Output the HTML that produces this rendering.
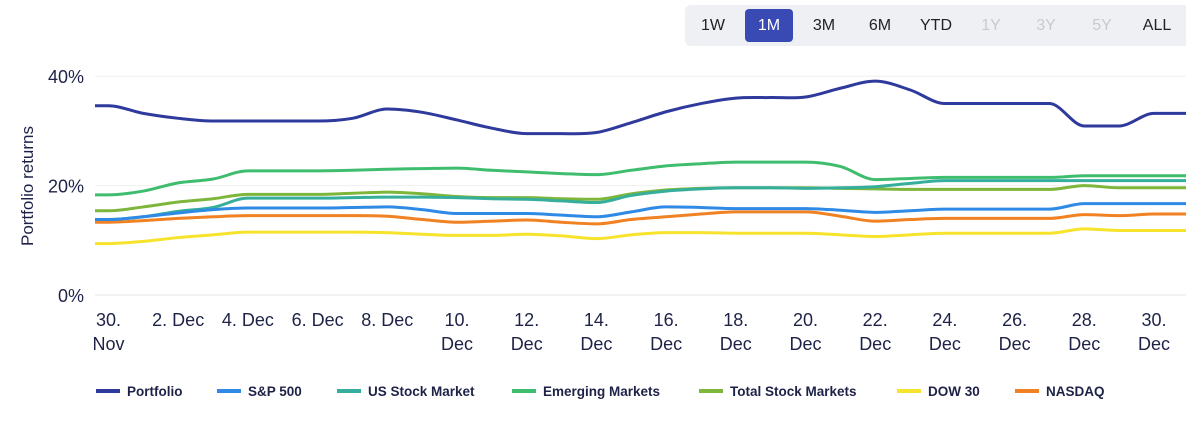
<!DOCTYPE html>
<html><head><meta charset="utf-8">
<style>
body{margin:0;width:1186px;height:424px;background:#fff;font-family:"Liberation Sans",sans-serif;overflow:hidden;position:relative}
.bar{position:absolute;left:685px;top:5px;width:510px;height:41px;background:#eef0f4;border-radius:6px}
.btn{position:absolute;top:9px;height:33px;line-height:33px;font-size:16px;color:#222;text-align:center}
.btn.on{background:#3a4ab4;color:#fff;border-radius:4px}
.btn.dis{color:#c8cad0}
</style></head><body>
<div class="bar"></div>
<div class="btn" style="left:690px;width:46px">1W</div>
<div class="btn on" style="left:745px;width:48px">1M</div>
<div class="btn" style="left:800px;width:48px">3M</div>
<div class="btn" style="left:856px;width:48px">6M</div>
<div class="btn" style="left:910px;width:52px">YTD</div>
<div class="btn dis" style="left:970px;width:42px">1Y</div>
<div class="btn dis" style="left:1025px;width:42px">3Y</div>
<div class="btn dis" style="left:1081px;width:42px">5Y</div>
<div class="btn" style="left:1134px;width:46px">ALL</div>
<svg id="chart" width="1186" height="424" style="position:absolute;left:0;top:0"></svg>
<script>
const days=[0,1,2,3,4,5,6,7,8,9,10,11,12,13,14,15,16,17,18,19,20,21,22,23,24,25,26,27,28,29,30,31];
const tickDays=[0,2,4,6,8,10,12,14,16,18,20,22,24,26,28,30];
const tickLabels=[["30.","Nov"],["2. Dec"],["4. Dec"],["6. Dec"],["8. Dec"],["10.","Dec"],["12.","Dec"],["14.","Dec"],["16.","Dec"],["18.","Dec"],["20.","Dec"],["22.","Dec"],["24.","Dec"],["26.","Dec"],["28.","Dec"],["30.","Dec"]];
const yTicks=[0,20,40];
const names=["Portfolio","S&P 500","US Stock Market","Emerging Markets","Total Stock Markets","DOW 30","NASDAQ"];
const colors=["#2e3a9c","#2f8ae6","#35ae9c","#3fbd6f","#7db63a","#f7e22c","#f08223"];
const portfolio=[34.6,33.2,32.3,31.8,31.8,31.8,31.8,32.3,34.0,33.4,32.0,30.5,29.5,29.5,29.7,31.5,33.5,35.0,36.0,36.1,36.2,37.8,39.1,37.5,35.0,35.0,35.0,35.0,30.9,30.9,33.2,33.2];
const sp500=[13.8,14.3,15.0,15.6,15.9,15.9,15.9,16.0,16.1,15.6,14.9,14.9,14.9,14.6,14.3,15.2,16.1,16.0,15.8,15.8,15.8,15.5,15.1,15.4,15.7,15.7,15.7,15.7,16.7,16.7,16.7,16.7];
const usMarket=[13.8,14.3,15.3,16.0,17.7,17.7,17.7,17.8,17.9,17.9,17.8,17.6,17.5,17.2,16.9,18.2,19.0,19.4,19.6,19.6,19.5,19.6,19.8,20.4,20.9,20.9,20.9,20.9,20.9,20.9,20.9,20.9];
const emerging=[18.3,19.0,20.5,21.2,22.7,22.7,22.7,22.8,23.0,23.1,23.2,22.8,22.5,22.2,22.0,22.8,23.6,24.0,24.3,24.3,24.3,23.5,21.1,21.3,21.5,21.5,21.5,21.5,21.8,21.8,21.8,21.8];
const totalMkt=[15.4,16.1,17.0,17.6,18.4,18.4,18.4,18.6,18.8,18.5,18.0,17.8,17.8,17.6,17.5,18.5,19.2,19.5,19.6,19.6,19.6,19.5,19.4,19.3,19.3,19.3,19.3,19.3,20.0,19.6,19.6,19.6];
const dow=[9.4,9.8,10.5,11.0,11.5,11.5,11.5,11.5,11.4,11.1,10.9,10.9,11.1,10.8,10.3,11.0,11.4,11.4,11.3,11.3,11.3,11.0,10.7,11.0,11.3,11.3,11.3,11.3,12.1,11.8,11.8,11.8];
const nasdaq=[13.3,13.6,14.0,14.3,14.5,14.5,14.5,14.5,14.4,13.8,13.3,13.5,13.7,13.3,13.0,13.8,14.3,14.8,15.2,15.2,15.2,14.4,13.5,13.8,14.0,14.0,14.0,14.0,14.7,14.5,14.8,14.8];
const series=[portfolio,sp500,usMarket,emerging,totalMkt,dow,nasdaq];
const NS="http://www.w3.org/2000/svg";
const svg=document.getElementById('chart');
const X=d=>108.5+d*34.85;
const Y=v=>295-v*5.47;
function mk(t,a,p){const e=document.createElementNS(NS,t);for(const k in a)e.setAttribute(k,a[k]);(p||svg).appendChild(e);return e;}
yTicks.forEach(v=>{
  const g=mk('line',{x1:95,x2:1186,y1:Y(v),y2:Y(v),stroke:v===0?'#e6e6e6':'#f0f0f0','stroke-width':1});
  
  
  const t=mk('text',{x:84,y:Y(v)+7,'text-anchor':'end','font-size':18,fill:'#1e2247'});
  t.textContent=v+'%';
  
  
});
const yt=mk('text',{x:0,y:0,transform:'translate(33,186) rotate(-90)','text-anchor':'middle','font-size':17,fill:'#1e2247'});
yt.textContent='Portfolio returns';


tickDays.forEach((d,i)=>{
  tickLabels[i].forEach((s,j)=>{
    const t=mk('text',{x:X(d),y:326+j*24,'text-anchor':'middle','font-size':18,fill:'#1e2247'});
    t.textContent=s;
    
    
  });
});
function path(vals){
  const pts=vals.map((v,i)=>[X(days[i]),Y(v)]);
  pts.unshift([95,pts[0][1]]);
  pts.push([1186,pts[pts.length-1][1]]);
  const n=pts.length,m=[],dl=[];
  for(let i=0;i<n-1;i++)dl.push((pts[i+1][1]-pts[i][1])/(pts[i+1][0]-pts[i][0]));
  for(let i=0;i<n;i++){
    if(i===0)m.push(dl[0]);else if(i===n-1)m.push(dl[n-2]);
    else m.push(dl[i-1]*dl[i]<=0?0:(dl[i-1]+dl[i])/2);
  }
  let s='M'+pts[0][0]+','+pts[0][1];
  for(let i=0;i<n-1;i++){
    const h=(pts[i+1][0]-pts[i][0])/3;
    s+=' C'+(pts[i][0]+h)+','+(pts[i][1]+m[i]*h)+' '+(pts[i+1][0]-h)+','+(pts[i+1][1]-m[i+1]*h)+' '+pts[i+1][0]+','+pts[i+1][1];
  }
  return s;
}
for(let k=series.length-1;k>=0;k--){
  const p=mk('path',{d:path(series[k]),fill:'none',stroke:colors[k],'stroke-width':3,'stroke-linejoin':'round'});
  
  
}
const legX=[96,217,337,512,699,897,1015];
names.forEach((n,i)=>{
  const g=mk('g',{});
  
  
  mk('rect',{x:legX[i],y:389,width:24,height:4,fill:colors[i]},g);
  const t=mk('text',{x:legX[i]+31,y:396,'font-size':13.5,'font-weight':'bold',fill:'#1e2247'},g);
  t.textContent=n;
});
</script>
</body></html>
